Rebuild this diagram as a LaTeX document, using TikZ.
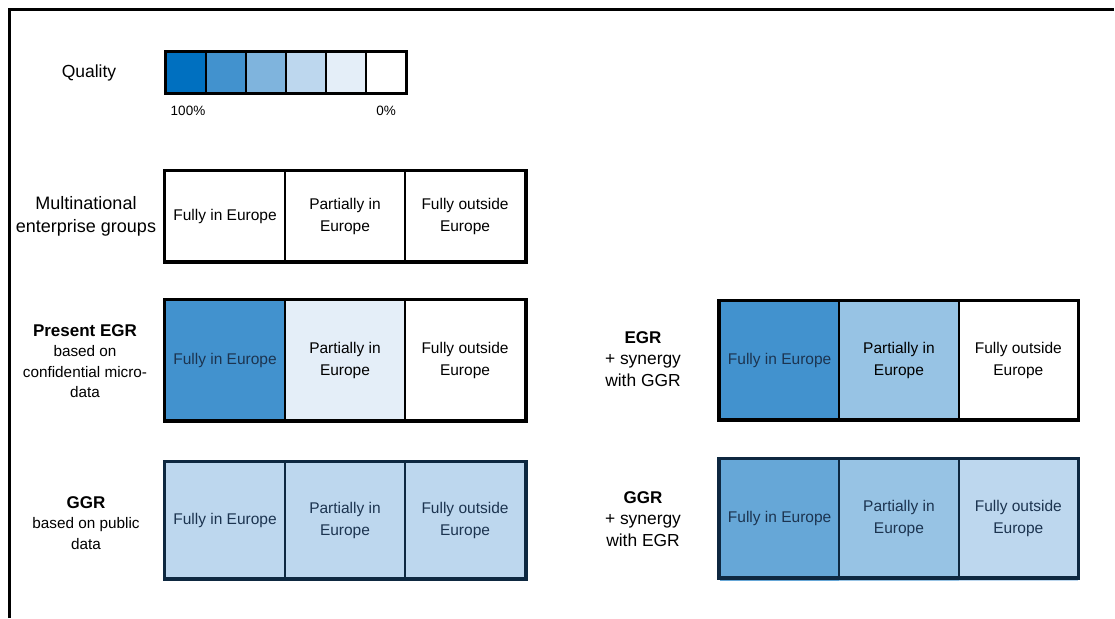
\documentclass[tikz,border=0pt]{standalone}
\usepackage{fontspec}
\setmainfont{Liberation Sans}
\definecolor{qA}{HTML}{0070C0}
\definecolor{qB}{HTML}{4292CE}
\definecolor{qC}{HTML}{7FB4DD}
\definecolor{qD}{HTML}{BDD7EE}
\definecolor{qE}{HTML}{E4EEF8}
\definecolor{qM}{HTML}{66A7D7}
\definecolor{qN}{HTML}{97C3E4}
\definecolor{navy}{HTML}{0E2840}
\definecolor{ink}{HTML}{1C3450}
\newcommand{\BoxFont}{\fontsize{15.5}{22}\selectfont}
\newcommand{\SubFont}{\fontsize{15.3}{20.5}\selectfont}
\newcommand{\SideFont}{\fontsize{17.4}{21.5}\selectfont}
\tikzset{
  cell/.style={draw, line width=2pt, minimum width=120pt, minimum height=#1,
    align=center, inner sep=0pt, font=\BoxFont},
  qcell/.style={draw, line width=1.6pt, minimum width=40pt, minimum height=41pt, inner sep=0pt},
  rowframe/.style={draw, line width=3pt}
}

\begin{document}
\begin{tikzpicture}[x=1pt,y=-1pt]
    \useasboundingbox (0,0) rectangle (1115,618);
    \draw[line width=3pt] (9,618) -- (9,10) -- (1114,10);
    %
    \node[font=\fontsize{17.5}{21}\selectfont] (quality) at (89,73) {Quality};
    \node[qcell, fill=qA] (q1) at (186,72.5) {};
    \node[qcell, fill=qB] (q2) at (226,72.5) {};
    \node[qcell, fill=qC] (q3) at (266,72.5) {};
    \node[qcell, fill=qD] (q4) at (306,72.5) {};
    \node[qcell, fill=qE] (q5) at (346,72.5) {};
    \node[qcell, fill=white] (q6) at (386,72.5) {};
    \draw[rowframe] (q1.north west) rectangle (q6.south east);
    \node[font=\fontsize{13.5}{16}\selectfont] (full) at (188,111) {100\%};
    \node[font=\fontsize{13.5}{16}\selectfont] (none) at (386,111) {0\%};
    %
    \node[align=center, font=\fontsize{18}{23}\selectfont] (mne) at (86,216) {Multinational\\enterprise groups};
    \node[cell=90pt] (m1) at (225,216) {Fully in Europe};
    \node[cell=90pt] (m2) at (345,216) {Partially in\\Europe};
    \node[cell=90pt] (m3) at (465,216) {Fully outside\\Europe};
    \draw[rowframe] (m1.north west) rectangle (m3.south east);
    %
    \node[align=center, font=\SubFont] (egr) at (85,361) {{\bfseries\fontsize{17}{21}\selectfont Present EGR}\\based on\\confidential micro-\\data};
    \node[cell=120pt, fill=qB, text=ink] (e1) at (225,360) {Fully in Europe};
    \node[cell=120pt, fill=qE] (e2) at (345,360) {Partially in\\Europe};
    \node[cell=120pt, fill=white] (e3) at (465,360) {Fully outside\\Europe};
    \draw[rowframe] (e1.north west) rectangle (e3.south east);
    %
    \node[align=center, font=\SideFont] (egrs) at (643,359) {{\bfseries\fontsize{17}{21}\selectfont EGR}\\+ synergy\\with GGR};
    \node[cell=118pt, minimum width=119.3pt, fill=qB, text=ink] (es1) at (779.6,360) {Fully in Europe};
    \node[cell=118pt, minimum width=119.3pt, fill=qN] (es2) at (898.9,360) {Partially in\\Europe};
    \node[cell=118pt, minimum width=119.3pt, fill=white] (es3) at (1018.3,360) {Fully outside\\Europe};
    \draw[rowframe] (es1.north west) rectangle (es3.south east);
    %
    \node[align=center, font=\SubFont] (ggr) at (86,523) {{\bfseries\fontsize{17}{21}\selectfont GGR}\\based on public\\data};
    \node[cell=116pt, fill=qD, draw=navy, text=ink] (g1) at (225,520) {Fully in Europe};
    \node[cell=116pt, fill=qD, draw=navy, text=ink] (g2) at (345,520) {Partially in\\Europe};
    \node[cell=116pt, fill=qD, draw=navy, text=ink] (g3) at (465,520) {Fully outside\\Europe};
    \draw[rowframe, draw=navy] (g1.north west) rectangle (g3.south east);
    %
    \node[align=center, font=\SideFont] (ggrs) at (643,519) {{\bfseries\fontsize{17}{21}\selectfont GGR}\\+ synergy\\with EGR};
    \fill[qM] (720,577) rectangle (839.3,581);
    \fill[qN] (839.3,577) rectangle (958.7,581);
    \fill[qD] (958.7,577) rectangle (1078,581);
    \node[cell=118pt, minimum width=119.3pt, fill=qM, draw=navy, text=ink] (gs1) at (779.6,518) {Fully in Europe};
    \node[cell=118pt, minimum width=119.3pt, fill=qN, draw=navy, text=ink] (gs2) at (898.9,518) {Partially in\\Europe};
    \node[cell=118pt, minimum width=119.3pt, fill=qD, draw=navy, text=ink] (gs3) at (1018.3,518) {Fully outside\\Europe};
    \draw[rowframe, draw=navy] (gs1.north west) rectangle (gs3.south east);
\end{tikzpicture}
\end{document}
